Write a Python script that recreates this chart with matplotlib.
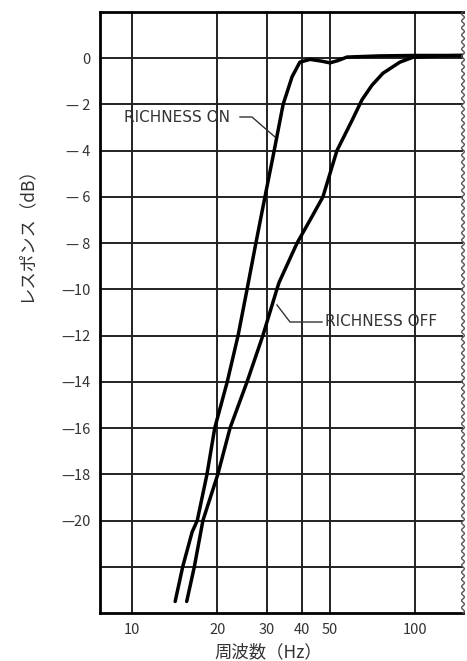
import numpy as np
import matplotlib
matplotlib.use("Agg")
import matplotlib.pyplot as plt

plt.rcParams['font.family'] = ['Noto Sans CJK JP', 'DejaVu Sans']

# ---- data ----
on_freq = [14.2, 15.1, 16.3, 17.0, 18.4, 19.6, 21.7, 23.7, 25.5, 27.4, 29.5,
           31.8, 34.2, 36.8, 39.2, 42.6, 46.5, 50.1, 53.5, 57.5, 75.0, 100.0, 148.0]
on_db = [-23.5, -22.0, -20.5, -20.0, -18.0, -16.0, -14.0, -12.0, -10.0, -8.0, -6.0,
         -4.0, -2.0, -0.8, -0.17, -0.05, -0.12, -0.2, -0.1, 0.05, 0.1, 0.12, 0.12]

off_freq = [15.6, 16.6, 17.8, 20.1, 22.2, 25.5, 29.0, 32.5, 33.1, 38.3, 42.6,
            47.3, 53.0, 59.9, 65.0, 70.5, 77.1, 88.5, 98.4, 122.0, 148.0]
off_db = [-23.5, -22.0, -20.0, -18.0, -16.0, -14.0, -12.0, -10.0, -9.7, -8.0, -7.0,
          -6.0, -4.0, -2.7, -1.8, -1.17, -0.65, -0.17, 0.04, 0.1, 0.12]

x_ticks = [10, 20, 30, 40, 50, 100]
x_ticklabels = ['10', '20', '30', '40', '50', '100']
y_grid = list(range(-22, 1, 2))
y_ticklabels = ['' if v == -22 else ('0' if v == 0 else ('\u2014 %d' % -v if -v < 10 else '\u2014%d' % -v))
                for v in y_grid]

W, H = 467, 661
fig = plt.figure(figsize=(W / 100, H / 100), dpi=100)
ax = fig.add_axes([100 / W, 1 - 613 / H, 363 / W, 601 / H])

ax.set_xscale('log')
ax.set_xlim(7.7, 148)
ax.set_ylim(-24, 2)

ax.plot(on_freq, on_db, color='black', lw=2.5, solid_capstyle='round', solid_joinstyle='round', zorder=5)
ax.plot(off_freq, off_db, color='black', lw=2.5, solid_capstyle='round', solid_joinstyle='round', zorder=5)

ax.set_xticks(x_ticks)
ax.set_xticklabels(x_ticklabels)
ax.xaxis.set_minor_locator(matplotlib.ticker.NullLocator())
ax.set_yticks(y_grid)
ax.set_yticklabels(y_ticklabels)
ax.tick_params(length=0, labelsize=10.5, colors='#333333', pad=7)
ax.tick_params(axis='x', pad=7)
ax.grid(True, color='#222222', lw=1.4)
ax.set_axisbelow(True)

for s in ['left', 'top', 'bottom']:
    ax.spines[s].set_linewidth(2.0)
    ax.spines[s].set_color('black')
ax.spines['right'].set_visible(False)

# wavy break line on the right edge
t = np.linspace(0, 1, 600)
ax.plot(1 + 0.004 * np.sin(2 * np.pi * t * 85), t, transform=ax.transAxes,
        color='#555555', lw=1.0, clip_on=False, zorder=6)

# annotations (pixel positions converted to data through the axes)
def px(xp, yp):
    return ax.transData.inverted().transform((xp, H - yp))

fig.canvas.draw()
p1, p2, p3 = px(240, 117), px(252, 117), px(275, 137)
ax.plot([p1[0], p2[0], p3[0]], [p1[1], p2[1], p3[1]], color='#333333', lw=1.0, zorder=6)
t_on = px(124, 118)
ax.text(t_on[0], t_on[1], 'RICHNESS ON', fontsize=11, color='#333333',
        ha='left', va='center', family=['DejaVu Sans'])

q1, q2, q3 = px(277, 305), px(290, 322), px(322, 322)
ax.plot([q1[0], q2[0], q3[0]], [q1[1], q2[1], q3[1]], color='#333333', lw=1.0, zorder=6)
t_off = px(325, 322)
ax.text(t_off[0], t_off[1], 'RICHNESS OFF', fontsize=11, color='#333333',
        ha='left', va='center', family=['DejaVu Sans'])

fig.text(25 / W, 1 - 230 / H, 'レスポンス（dB）', rotation=90, ha='center', va='center',
         fontsize=12.5, color='#333333')
fig.text(268 / W, 1 - 652 / H, '周波数（Hz）', ha='center', va='center',
         fontsize=12.5, color='#333333')

fig.savefig('out.png', dpi=100, facecolor='white')
